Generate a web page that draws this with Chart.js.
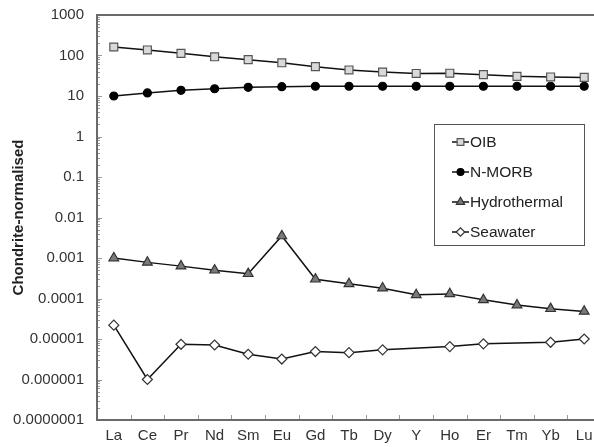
<!DOCTYPE html>
<html>
<head>
<meta charset="utf-8">
<script src="https://cdn.jsdelivr.net/npm/chart.js@4/dist/chart.umd.min.js"></script>
<style>
  html, body { margin: 0; padding: 0; overflow: hidden; background: #fff; }
  #wrap { width: 594px; height: 447px; overflow: hidden; }
</style>
</head>
<body>
<div id="wrap"><canvas id="ree" width="610" height="447"></canvas></div>
<script>
'use strict';

// REE + Y, chondrite-normalised
const elements = ['La', 'Ce', 'Pr', 'Nd', 'Sm', 'Eu', 'Gd', 'Tb', 'Dy', 'Y', 'Ho', 'Er', 'Tm', 'Yb', 'Lu'];
const oib = [162, 137, 113, 93, 79, 66, 53, 44, 39, 36, 36.5, 33.6, 30.6, 29.5, 28.8];
const nmorb = [10, 11.9, 13.8, 15.1, 16.4, 17, 17.4, 17.4, 17.4, 17.4, 17.4, 17.4, 17.4, 17.4, 17.4];
const hydrothermal = [0.001, 0.00078, 0.00063, 0.0005, 0.00041, 0.0035, 0.0003, 0.00023, 0.00018,
  0.000123, 0.00013, 0.000093, 0.000069, 0.000056, 0.000048];
// no Y or Tm value for seawater
const seawater = [0.000022, 0.000001, 0.0000074, 0.0000071, 0.0000042, 0.0000032, 0.0000049, 0.0000046,
  0.0000054, null, 0.0000065, 0.0000076, null, 0.0000083, 0.00001];
const yTickLabels = ['0.0000001', '0.000001', '0.00001', '0.0001', '0.001', '0.01', '0.1', '1', '10', '100', '1000'];
const yMinExp = -7;
const yMaxExp = 3;

const FONT = '"Liberation Sans", Arial, sans-serif';
const AXIS_COLOR = '#6a6a6a';

function decadeLabel(v) {
  const e = Math.log10(v);
  const r = Math.round(e);
  if (Math.abs(e - r) > 1e-6) return null;
  return yTickLabels[r - yMinExp] ?? null;
}

// axes frame with inward tick marks, drawn from the scales
const framePlugin = {
  id: 'frame',
  afterDatasetsDraw(chart) {
    const { ctx, chartArea: a, scales } = chart;
    const y = scales.y;
    const x = scales.x;
    ctx.save();
    ctx.strokeStyle = '#9a9a9a';
    ctx.lineWidth = 1;
    for (let e = yMinExp; e < yMaxExp; e++) {
      for (let k = 1; k <= 9; k++) {
        const py = Math.round(y.getPixelForValue(k * Math.pow(10, e))) + 0.5;
        const len = k === 1 ? 5 : 3;
        ctx.beginPath();
        ctx.moveTo(a.left, py);
        ctx.lineTo(a.left + len, py);
        ctx.stroke();
      }
    }
    for (let i = 0; i < elements.length - 1; i++) {
      const px = Math.round((x.getPixelForValue(i) + x.getPixelForValue(i + 1)) / 2) + 0.5;
      ctx.beginPath();
      ctx.moveTo(px, a.bottom);
      ctx.lineTo(px, a.bottom - 5);
      ctx.stroke();
    }
    ctx.strokeStyle = AXIS_COLOR;
    ctx.lineWidth = 2;
    ctx.strokeRect(a.left, a.top, a.right - a.left, a.bottom - a.top);
    ctx.restore();
  }
};

// boxed legend inside the plot, like the original figure
const boxLegendPlugin = {
  id: 'boxLegend',
  afterDraw(chart) {
    const { ctx } = chart;
    const box = { left: 434, top: 124, right: 584, bottom: 245 };
    ctx.save();
    ctx.fillStyle = '#fff';
    ctx.fillRect(box.left, box.top, box.right - box.left, box.bottom - box.top);
    ctx.strokeStyle = '#555';
    ctx.lineWidth = 1;
    ctx.strokeRect(box.left + 0.5, box.top + 0.5, box.right - box.left, box.bottom - box.top);
    ctx.font = '15.5px ' + FONT;
    ctx.textBaseline = 'middle';
    chart.data.datasets.forEach((ds, i) => {
      const cy = 142 + i * 30;
      ctx.strokeStyle = ds.borderColor;
      ctx.lineWidth = ds.borderWidth;
      ctx.beginPath();
      ctx.moveTo(452, cy);
      ctx.lineTo(469, cy);
      ctx.stroke();
      ctx.fillStyle = ds.pointBackgroundColor;
      ctx.strokeStyle = ds.pointBorderColor;
      ctx.lineWidth = ds.pointBorderWidth;
      Chart.helpers.drawPoint(ctx, {
        pointStyle: ds.pointStyle,
        radius: ds.pointRadius * 0.85,
        rotation: 0,
        borderWidth: ds.pointBorderWidth
      }, 460.5, cy);
      ctx.fillStyle = '#222';
      ctx.fillText(ds.label, 470, cy + 1);
    });
    ctx.restore();
  }
};

function series(label, data, style, bg, border, radius) {
  return {
    label,
    data,
    borderColor: '#111',
    borderWidth: 1.5,
    pointStyle: style,
    pointRadius: radius,
    pointHoverRadius: radius,
    pointBackgroundColor: bg,
    pointBorderColor: border,
    pointBorderWidth: 1.2,
    spanGaps: true,
    tension: 0
  };
}

new Chart(document.getElementById('ree').getContext('2d'), {
  type: 'line',
  data: {
    labels: elements,
    datasets: [
      series('OIB', oib, 'rect', '#d9d9d9', '#555', 5.6),
      series('N-MORB', nmorb, 'circle', '#000', '#000', 4),
      series('Hydrothermal', hydrothermal, 'triangle', '#7a7a7a', '#333', 5.6),
      series('Seawater', seawater, 'rectRot', '#fff', '#333', 5)
    ]
  },
  options: {
    responsive: false,
    animation: false,
    events: [],
    layout: { padding: { top: 15, right: 9, left: 0, bottom: 0 } },
    plugins: {
      legend: { display: false },
      tooltip: { enabled: false }
    },
    scales: {
      x: {
        type: 'category',
        offset: true,
        grid: { display: false, drawTicks: false },
        border: { display: false },
        ticks: {
          color: '#333',
          font: { family: FONT, size: 15 },
          padding: 7,
          maxRotation: 0,
          autoSkip: false
        },
        afterFit(scale) {
          scale.height = 27;
          scale.paddingLeft = 0;
          scale.paddingRight = 0;
        }
      },
      y: {
        type: 'logarithmic',
        min: Math.pow(10, yMinExp),
        max: Math.pow(10, yMaxExp),
        grid: { display: false, drawTicks: false },
        border: { display: false },
        title: {
          display: true,
          text: 'Chondrite-normalised',
          color: '#222',
          font: { family: FONT, size: 15, weight: 'bold' },
          padding: { top: 10, bottom: 0 }
        },
        ticks: {
          color: '#333',
          font: { family: FONT, size: 15 },
          padding: 13,
          autoSkip: false,
          callback: (v) => decadeLabel(v)
        },
        afterFit(scale) {
          scale.width = 97;
          scale.paddingTop = 0;
          scale.paddingBottom = 0;
        }
      }
    }
  },
  plugins: [framePlugin, boxLegendPlugin]
});
</script>
</body>
</html>
